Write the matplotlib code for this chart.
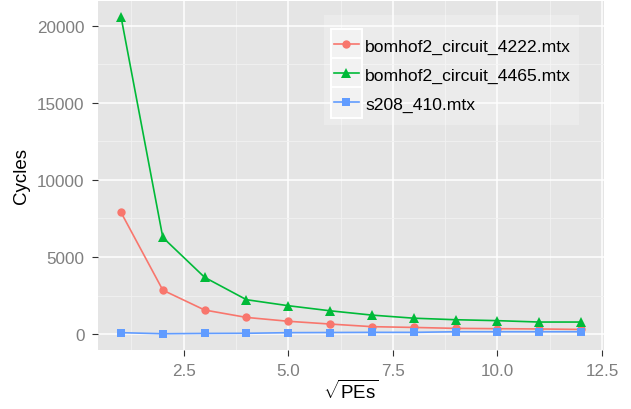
import matplotlib
matplotlib.use('Agg')
import matplotlib.pyplot as plt
from matplotlib.patches import Rectangle
from matplotlib.lines import Line2D
from matplotlib.legend_handler import HandlerLine2D
from matplotlib.ticker import MultipleLocator

# sqrt of number of PEs
pes = [1, 2, 3, 4, 5, 6, 7, 8, 9, 10, 11, 12]

circuit_4222 = [7900, 2850, 1560, 1080, 830, 650, 480, 430, 370, 350, 330, 300]
circuit_4465 = [20600, 6270, 3680, 2230, 1840, 1510, 1230, 1030, 930, 870, 780, 780]
s208_410 = [90, 20, 40, 50, 90, 100, 110, 110, 150, 150, 150, 150]

series = [
    ('bomhof2_circuit_4222.mtx', circuit_4222, '#F8766D', 'o', 6.0),
    ('bomhof2_circuit_4465.mtx', circuit_4465, '#00BA38', '^', 7.0),
    ('s208_410.mtx', s208_410, '#619CFF', 's', 6.0),
]


class KeyHandler(HandlerLine2D):
    # ggplot-like legend key: grey box with white border, short line + marker
    def create_artists(self, legend, orig, xdescent, ydescent, width, height,
                       fontsize, trans):
        cx = width / 2 - xdescent
        cy = height / 2 - ydescent
        boxh = 22.1
        rect = Rectangle((-xdescent, cy - boxh / 2), width, boxh,
                         facecolor='#f2f2f2', edgecolor='white', linewidth=1.4,
                         transform=trans)
        line = Line2D([cx - width * 0.39, cx + width * 0.39], [cy, cy],
                      color=orig.get_color(), linewidth=orig.get_linewidth(),
                      transform=trans)
        mk = Line2D([cx], [cy], marker=orig.get_marker(), markersize=orig.get_markersize(),
                    color=orig.get_color(), markeredgewidth=0, linestyle='none',
                    transform=trans)
        return [rect, line, mk]


plt.rcParams['font.family'] = ['Liberation Sans', 'DejaVu Sans']
plt.rcParams['mathtext.fontset'] = 'custom'
plt.rcParams['mathtext.rm'] = 'Liberation Sans'

fig = plt.figure(figsize=(6.31, 4.10), dpi=100)
ax = fig.add_axes([98 / 631, 59.3 / 410, 506 / 631, 349 / 410])
ax.set_facecolor('#e5e5e5')

for name, vals, col, mk, ms in series:
    ax.plot(pes, vals, color=col, marker=mk, markersize=ms, linewidth=1.2,
            markeredgewidth=0, label=name)

ax.set_xlim(0.45, 12.55)
ax.set_ylim(-1015, 21635)
ax.xaxis.set_minor_locator(MultipleLocator(1.25))
ax.yaxis.set_major_locator(MultipleLocator(5000))
ax.yaxis.set_minor_locator(MultipleLocator(2500))
ax.set_xticks([2.5, 5.0, 7.5, 10.0, 12.5])
ax.set_xticklabels(['2.5', '5.0', '7.5', '10.0', '12.5'])

ax.grid(which='major', color='white', linewidth=1.1)
ax.grid(which='minor', color='#f2f2f2', linewidth=0.6)
ax.set_axisbelow(True)
for s in ax.spines.values():
    s.set_visible(False)
ax.tick_params(which='major', length=4.3, width=0.8, color='#333333',
               labelcolor='#7f7f7f', labelsize=12.3, pad=5.5)
ax.tick_params(which='minor', length=0)

ax.set_xlabel(r'$\sqrt{\mathrm{PEs}}$', fontsize=13.5, labelpad=0)
ax.set_ylabel('Cycles', fontsize=13.5, labelpad=5)

leg = ax.legend(loc='upper left', bbox_to_anchor=(0.4466, 0.939),
                borderaxespad=0, fontsize=12.6, frameon=False,
                handlelength=1.77, handletextpad=0.19,
                labelspacing=0.78, borderpad=0.4,
                handler_map={Line2D: KeyHandler()})

# move legend so the first key box sits at (331, 30) px from top-left
fig.canvas.draw()
r0 = leg.legend_handles[0].get_window_extent()
H = fig.bbox.height
dx = 331 - r0.x0
dy = (H - 30) - r0.y1
anchor_px = ax.transAxes.transform((0.4466, 0.939))
new_anchor = ax.transAxes.inverted().transform((anchor_px[0] + dx, anchor_px[1] + dy))
leg.set_bbox_to_anchor(tuple(new_anchor), transform=ax.transAxes)

# legend background: a bit more room on top, like ggplot
fig.canvas.draw()
keys = [h.get_window_extent() for h in leg.legend_handles]
bb = leg.get_window_extent()
x0 = keys[0].x0 - 7
y0 = min(k.y0 for k in keys) - 7
y1 = max(k.y1 for k in keys) + 14
bg = Rectangle((x0, y0), bb.x1 + 1 - x0, y1 - y0, transform=None,
               facecolor=(1, 1, 1, 0.25), edgecolor='none', zorder=4.5)
ax.add_patch(bg)

fig.savefig('out.png', dpi=100)
